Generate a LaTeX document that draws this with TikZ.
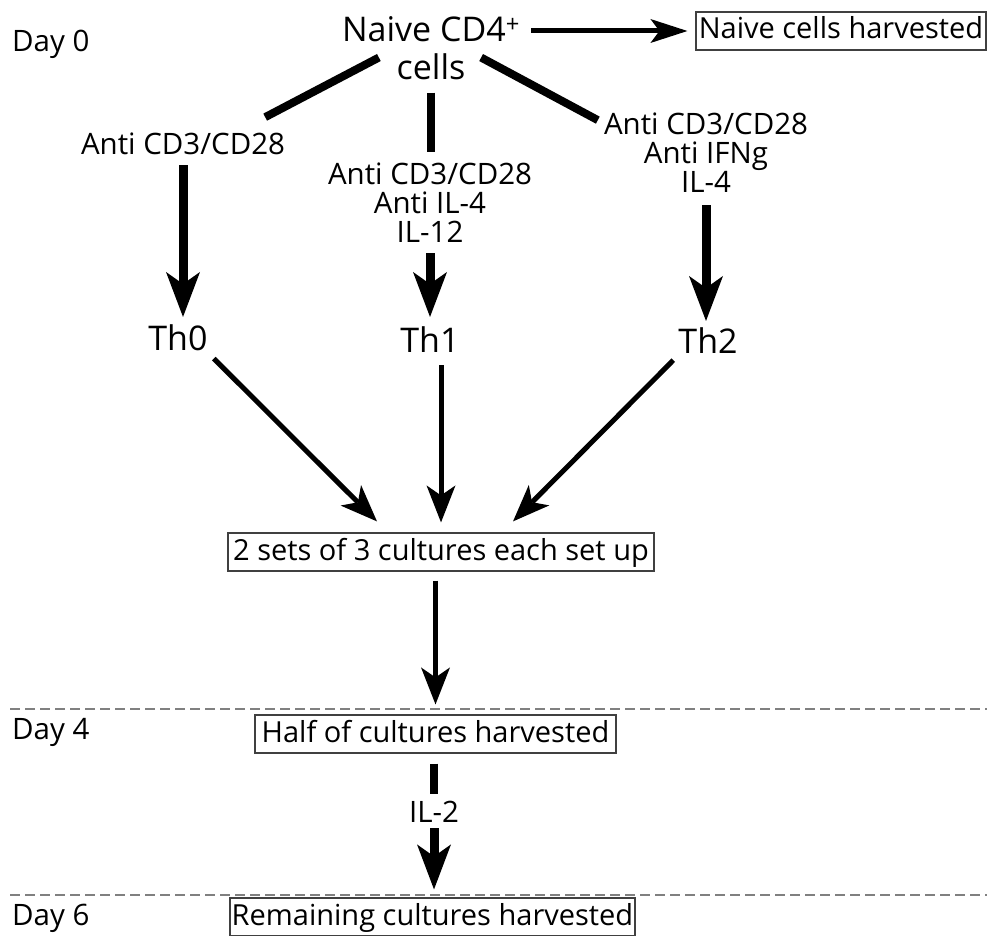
\documentclass[tikz,border=0pt]{standalone}
\usepackage{fontspec}
\setmainfont{Open Sans}
\usetikzlibrary{arrows.meta}

\begin{document}
\begin{tikzpicture}[x=1pt,y=-1pt,
  lbl/.style={font=\fontsize{29.5}{29}\selectfont,inner sep=0pt,align=center,anchor=base},
  cell/.style={font=\fontsize{34}{38}\selectfont,inner sep=0pt,align=center,anchor=base},
  daylbl/.style={font=\fontsize{29.5}{32}\selectfont,inner sep=0pt,anchor=base west},
  stepbox/.style={font=\fontsize{29}{30}\selectfont,draw=black!75,line width=1.2pt,
    inner xsep=0pt,inner ysep=4pt,text height=23pt,text depth=7pt,anchor=base},
  branch/.style={line width=8pt},
  fatarr/.style={line width=9pt,-{Stealth[length=45pt,width=34pt,inset=12pt,line width=0pt]}},
  harr/.style={line width=5pt,-{Stealth[length=37pt,width=29pt,inset=10pt,line width=0pt]}},
  dayline/.style={black!50,line width=1.2pt,dash pattern=on 10pt off 5pt}]
\useasboundingbox (0,0) rectangle (987,936);
% day 0
\node[daylbl] (day0) at (12,52) {Day 0};
\node[cell] (naive) at (431,80) {Naive CD4\textsuperscript{+}\\cells};
\node[stepbox,minimum width=290pt] (harv0) at (841,39) {Naive cells harvested};
\draw[harr,-{Stealth[length=37pt,width=24pt,inset=9pt,line width=0pt]},shorten <=11pt,shorten >=8pt]
  (naive.east |- harv0.west) -- (harv0.west);
% stimulation
\node[lbl] (tr0) at (183,155) {Anti CD3/CD28};
\node[lbl] (tr1) at (430,242) {Anti CD3/CD28\\Anti IL-4\\IL-12};
\node[lbl] (tr2) at (706,193) {Anti CD3/CD28\\Anti IFNg\\IL-4};
\draw[branch] ([shift={(37,-23)}]naive.south west) -- ([shift={(-20,-16)}]tr0.north east);
\draw[branch,shorten <=12pt,shorten >=10pt] (naive.south) -- (naive.south |- tr1.north);
\draw[branch] ([shift={(-39,-23)}]naive.south east) -- ([shift={(-6,7)}]tr2.north west);
% helper subsets
\node[cell] (th0) at (178,350) {Th0};
\node[cell] (th1) at (430,352) {Th1};
\node[cell] (th2) at (708,353) {Th2};
\draw[fatarr,shorten <=10pt,shorten >=7pt] (tr0.south) -- (tr0.south |- th0.north);
\draw[fatarr,shorten <=11pt,shorten >=9pt] (tr1.south) -- (tr1.south |- th1.north);
\draw[fatarr,shorten <=12pt,shorten >=6pt] (tr2.south) -- (tr2.south |- th2.north);
% cultures
\node[stepbox,minimum width=426pt] (sets) at (441,560) {2 sets of 3 cultures each set up};
\draw[harr] ([shift={(6,8)}]th0.south east) -- ([shift={(-64,-11)}]sets.north);
\draw[harr,shorten <=13pt,shorten >=10pt] (th1.south -| sets.north) -- (sets.north);
\draw[harr] ([shift={(-5,7)}]th2.south west) -- ([shift={(72,-11)}]sets.north);
% day 4 and day 6
\draw[dayline] (10,709) -- (987,709);
\draw[dayline] (10,895) -- (987,895);
\node[daylbl] (day4) at (12,739) {Day 4};
\node[stepbox,minimum width=361pt] (half) at (435.5,742) {Half of cultures harvested};
\node[daylbl] (day6) at (12,925) {Day 6};
\node[stepbox,minimum width=405pt] (remain) at (432.5,925) {Remaining cultures harvested};
\draw[harr,shorten <=9pt,shorten >=10pt] (half.north |- sets.south) -- (half.north);
\node[lbl] (il2) at (434,822) {IL-2};
\draw[branch,shorten <=10pt,shorten >=6pt] (il2 |- half.south) -- (il2.north);
\draw[fatarr,shorten <=6pt,shorten >=8pt] (il2.south) -- (il2.south |- remain.north);
\end{tikzpicture}
\end{document}
